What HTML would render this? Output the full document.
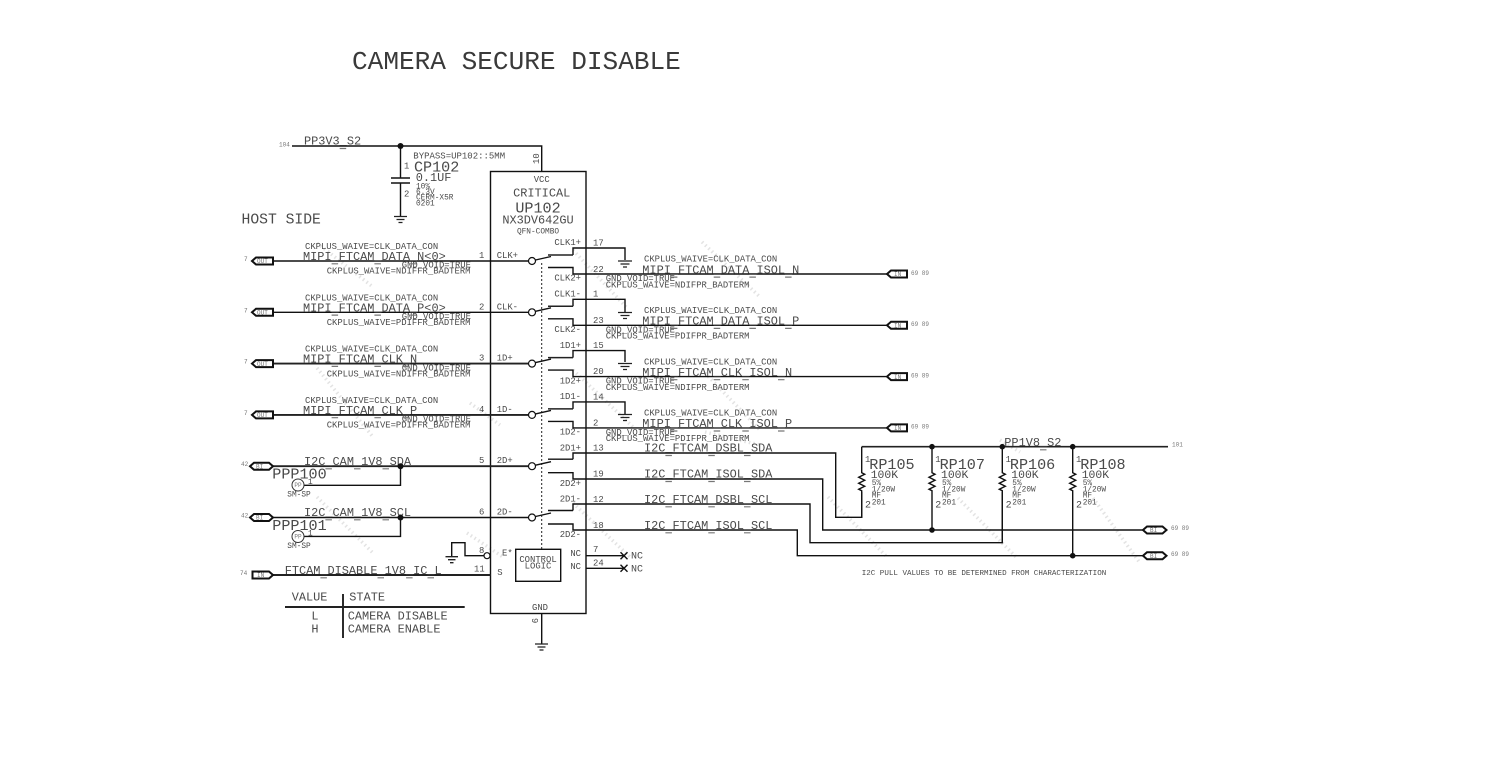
<!DOCTYPE html>
<html><head><meta charset="utf-8"><style>
html,body{margin:0;padding:0;background:#fff;width:1505px;height:761px;overflow:hidden}
svg{display:block}
text{font-family:"Liberation Mono",monospace;fill:#4a4a4a;white-space:pre}
.s{font-size:8.9px}.m{font-size:11.9px}.l{font-size:15.1px}.t{font-size:7.8px}.x{font-size:6px;fill:#777}
.c{text-anchor:middle}.r{text-anchor:end}
.w{fill:none;stroke:#111;stroke-width:1.4}
.b{fill:none;stroke:#222;stroke-width:1.9}
.o{fill:#fff;stroke:#111;stroke-width:2}
.d{fill:#111}
.h{fill:none;stroke:#e3e3e3;stroke-width:3.5;stroke-dasharray:1.5 3}
.u{fill:none;stroke:#777;stroke-width:1.2}
</style></head><body>
<svg width="1505" height="761" viewBox="0 0 1505 761" xmlns="http://www.w3.org/2000/svg">
<!-- watermark -->
<path class="h" d="M317 243L373 287M317 368L373 437M317 497L373 553M467 533L503 557M702 242L760 297M573 250L627 308M573 370L633 427M705 373L760 430M573 503L630 557M828 497L887 557M958 498L1017 558M1093 498L1140 563M705 432L760 445M470 403L500 425M1000 440L1020 452"/>

<text x="352" y="69" style="font-size:26.1px;fill:#3a3a3a">CAMERA SECURE DISABLE</text>
<text x="241.5" y="223.3" style="font-size:14.7px">HOST SIDE</text>

<!-- power and cap -->
<path class="w" d="M292 146H541.7V171.5M400.5 146V178M400.5 183V216M391 178H410M391 183H410"/>
<path class="b" d="M394 216.5H407M396.5 219.5H404.5M398.5 222.5H402.5" style="stroke-width:1.3"/>
<circle class="d" cx="400.5" cy="146" r="3"/>
<text class="x" x="279" y="146.5">104</text>
<text class="m" x="304" y="144.7">PP3V3_S2</text>
<text x="413.3" y="158.7" style="font-size:9px">BYPASS=UP102::5MM</text>
<text class="s" x="404" y="168.3">1</text>
<text class="s" x="404" y="196.7">2</text>
<text class="l" x="414" y="171.3">CP102</text>
<text class="m" x="415.7" y="181">0.1UF</text>
<text class="t" x="416" y="188.3">10%</text>
<text class="t" x="416" y="194">6.3V</text>
<text class="t" x="416" y="199.7">CERM-X5R</text>
<text class="t" x="416" y="205.7">0201</text>
<text class="s" transform="translate(539,164) rotate(-90)" x="0" y="0">10</text>

<!-- chip -->
<rect class="w" x="490.5" y="171.5" width="95.5" height="442"/>
<text class="s c" x="541.7" y="182">VCC</text>
<text class="m c" x="541.7" y="196.7">CRITICAL</text>
<text class="l c" x="538" y="212.7">UP102</text>
<text class="m c" x="538" y="223.3">NX3DV642GU</text>
<text class="t c" x="538" y="233.3">QFN-COMBO</text>
<text class="s c" x="540" y="610">GND</text>
<text class="s" transform="translate(532,618) rotate(90)" x="0" y="0">9</text>
<path class="w" d="M541.7 613.5V643.5"/>
<path class="b" d="M535 644H548M537.5 647H545.5M539.5 650H543.5" style="stroke-width:1.3"/>
<path fill="none" stroke="#222" stroke-width="1" stroke-dasharray="2 2" d="M541.7 263V549"/>
<rect class="w" x="515.7" y="549.3" width="45" height="32"/>
<text class="s c" x="538" y="562">CONTROL</text>
<text class="s c" x="538" y="568.7">LOGIC</text>

<!-- left nets -->
<path class="w" d="M273 261H528.5M273 312.3H528.5M273 517.5H528.5"/>
<path class="b" d="M273 363.6H528.5M273 414.9H528.5M273 466.2H528.5M273 575H490.5"/>
<g fill="#fff" stroke="#111" stroke-width="1.2">
<circle cx="532" cy="261" r="3.5"/><circle cx="532" cy="312.3" r="3.5"/><circle cx="532" cy="363.6" r="3.5"/><circle cx="532" cy="414.9" r="3.5"/><circle cx="532" cy="466.2" r="3.5"/><circle cx="532" cy="517.5" r="3.5"/>
</g>
<path class="w" d="M535.5 260L551 256.5M535.5 311.3L551 307.8M535.5 362.6L551 359.1M535.5 413.9L551 410.4M535.5 465.2L551 461.7M535.5 516.5L551 513"/>

<polygon class="o" points="252,261 256,257.5 273,257.5 273,264.5 256,264.5"/>
<polygon class="o" points="252,312.3 256,308.8 273,308.8 273,315.8 256,315.8"/>
<polygon class="o" points="252,363.6 256,360.1 273,360.1 273,367.1 256,367.1"/>
<polygon class="o" points="252,414.9 256,411.4 273,411.4 273,418.4 256,418.4"/>
<polygon class="o" points="250,466.2 254,462.7 269,462.7 273,466.2 269,469.7 254,469.7"/>
<polygon class="o" points="250,517.5 254,514 269,514 273,517.5 269,521 254,521"/>
<polygon class="o" points="252.5,571.5 269,571.5 273,575 269,578.5 252.5,578.5"/>
<g class="lbl">
<text class="x" x="257" y="263.2">OUT</text><text class="x" x="257" y="314.5">OUT</text><text class="x" x="257" y="365.8">OUT</text><text class="x" x="257" y="417.1">OUT</text>
<text class="x" x="256" y="468.4">BI</text><text class="x" x="256" y="519.7">BI</text><text class="x" x="257" y="577.2">IN</text>
<text class="x" x="244" y="261">7</text><text class="x" x="244" y="312.3">7</text><text class="x" x="244" y="363.6">7</text><text class="x" x="244" y="414.9">7</text>
<text class="x" x="241" y="466">42</text><text class="x" x="241" y="517.5">42</text><text class="x" x="240" y="575">74</text>
</g>

<text class="s" x="305" y="249">CKPLUS_WAIVE=CLK_DATA_CON</text>
<text class="m" x="303" y="260">MIPI_FTCAM_DATA_N&lt;0&gt;</text>
<text class="s" x="401.7" y="267.7">GND_VOID=TRUE</text>
<text class="s" x="326.7" y="273.7">CKPLUS_WAIVE=NDIFFR_BADTERM</text>
<text class="s" x="305" y="300.3">CKPLUS_WAIVE=CLK_DATA_CON</text>
<text class="m" x="303" y="311.3">MIPI_FTCAM_DATA_P&lt;0&gt;</text>
<text class="s" x="401.7" y="319">GND_VOID=TRUE</text>
<text class="s" x="326.7" y="325">CKPLUS_WAIVE=PDIFFR_BADTERM</text>
<text class="s" x="305" y="351.6">CKPLUS_WAIVE=CLK_DATA_CON</text>
<text class="m" x="303" y="362.6">MIPI_FTCAM_CLK_N</text>
<text class="s" x="401.7" y="370.3">GND_VOID=TRUE</text>
<text class="s" x="326.7" y="376.3">CKPLUS_WAIVE=NDIFFR_BADTERM</text>
<text class="s" x="305" y="402.9">CKPLUS_WAIVE=CLK_DATA_CON</text>
<text class="m" x="303" y="413.9">MIPI_FTCAM_CLK_P</text>
<text class="s" x="401.7" y="421.6">GND_VOID=TRUE</text>
<text class="s" x="326.7" y="427.6">CKPLUS_WAIVE=PDIFFR_BADTERM</text>
<text class="m" x="304" y="465">I2C_CAM_1V8_SDA</text>
<text class="m" x="304" y="516">I2C_CAM_1V8_SCL</text>
<text class="m" x="284.7" y="574">FTCAM_DISABLE_1V8_IC_L</text>

<text class="s" x="479" y="258">1</text><text class="s" x="479" y="309.3">2</text><text class="s" x="479" y="360.6">3</text><text class="s" x="479" y="411.9">4</text><text class="s" x="479" y="463.2">5</text><text class="s" x="479" y="514.5">6</text><text class="s" x="479" y="553">8</text><text class="s" x="474" y="571.7">11</text>
<text class="s" x="496.7" y="258">CLK+</text><text class="s" x="496.7" y="309.3">CLK-</text><text class="s" x="496.7" y="360.6">1D+</text><text class="s" x="496.7" y="411.9">1D-</text><text class="s" x="496.7" y="463.2">2D+</text><text class="s" x="496.7" y="514.5">2D-</text>
<text class="s" x="502" y="555.7">E*</text><text class="s" x="497.3" y="575">S</text>

<!-- test points -->
<path class="w" d="M400.5 466.2V485.3H304M400.5 517.5V536.4H304"/>
<circle class="d" cx="400.5" cy="466.2" r="3"/><circle class="d" cx="400.5" cy="517.5" r="3"/>
<circle cx="298" cy="485" r="6" fill="#fff" stroke="#333" stroke-width="1"/>
<circle cx="298" cy="536.5" r="6" fill="#fff" stroke="#333" stroke-width="1"/>
<text class="x c" x="298" y="487">PP</text><text class="x c" x="298" y="538.5">PP</text>
<text class="l" x="272.3" y="478.3">PPP100</text>
<text class="l" x="272.3" y="530">PPP101</text>
<text class="t" x="287.3" y="496.7">SM-SP</text>
<text class="t" x="287.3" y="548">SM-SP</text>
<text class="t" x="308" y="484">1</text><text class="t" x="308" y="535.5">1</text>

<!-- E* -->
<path class="w" d="M484 555.7H465V542.7H451.7V556.5"/>
<circle cx="487" cy="555.7" r="3" fill="#fff" stroke="#111" stroke-width="1.2"/>
<path class="b" d="M445.5 556.7H458M448 559.7H455.5M450 562.7H453.5" style="stroke-width:1.3"/>

<!-- right contacts -->
<path class="w" d="M573 255V248H625V260M573 306.3V299.3H625V312M573 357.6V350.6H625V362M573 408.9V401.9H625V414M573 459.2V453H835.7V517.3H861.7V492M573 510.5V504H810V542.7H1002.3V492"/>
<path class="b" d="M548 255H573M548 306.3H573M548 357.6H573M548 408.9H573" style="stroke-width:1.5"/>
<path class="w" d="M548 459.2H573M548 510.5H573"/>
<path class="w" d="M548 267.5H573V274H888M548 318.8H573V325.3H888M548 370.1H573V376.6H888M548 421.4H573V427.9H888M548 472.7H573V479H822.7V530H1143M548 524H573V530H797.3V555.7H1143"/>
<path class="b" d="M618 261H632M620.5 264H629.5M623 267H627M618 312.5H632M620.5 315.5H629.5M623 318.5H627M618 363.5H632M620.5 366.5H629.5M623 369.5H627M618 414.5H632M620.5 417.5H629.5M623 420.5H627" style="stroke-width:1.3"/>

<text class="s r" x="581" y="245">CLK1+</text><text class="s r" x="581" y="280.7">CLK2+</text>
<text class="s r" x="581" y="296.5">CLK1-</text><text class="s r" x="581" y="332">CLK2-</text>
<text class="s r" x="581" y="347.8">1D1+</text><text class="s r" x="581" y="383.3">1D2+</text>
<text class="s r" x="581" y="399.1">1D1-</text><text class="s r" x="581" y="434.6">1D2-</text>
<text class="s r" x="581" y="450.4">2D1+</text><text class="s r" x="581" y="485.9">2D2+</text>
<text class="s r" x="581" y="501.7">2D1-</text><text class="s r" x="581" y="537.2">2D2-</text>
<text class="s r" x="581" y="556">NC</text><text class="s r" x="581" y="569">NC</text>

<text class="s" x="593" y="245.7">17</text><text class="s" x="593" y="272">22</text>
<text class="s" x="593" y="296.5">1</text><text class="s" x="593" y="322.8">23</text>
<text class="s" x="593" y="348">15</text><text class="s" x="593" y="374">20</text>
<text class="s" x="593" y="399.5">14</text><text class="s" x="593" y="425.5">2</text>
<text class="s" x="593" y="450.5">13</text><text class="s" x="593" y="476.5">19</text>
<text class="s" x="593" y="502">12</text><text class="s" x="593" y="528">18</text>
<text class="s" x="593" y="552">7</text><text class="s" x="593" y="565.3">24</text>

<text class="s" x="644" y="261.7">CKPLUS_WAIVE=CLK_DATA_CON</text>
<text class="m" x="642.3" y="273.3">MIPI_FTCAM_DATA_ISOL_N</text>
<text class="s" x="605.7" y="281">GND_VOID=TRUE</text>
<text class="s" x="605.7" y="287.3">CKPLUS_WAIVE=NDIFPR_BADTERM</text>
<text class="s" x="644" y="313">CKPLUS_WAIVE=CLK_DATA_CON</text>
<text class="m" x="642.3" y="324.6">MIPI_FTCAM_DATA_ISOL_P</text>
<text class="s" x="605.7" y="332.3">GND_VOID=TRUE</text>
<text class="s" x="605.7" y="338.6">CKPLUS_WAIVE=PDIFPR_BADTERM</text>
<text class="s" x="644" y="364.3">CKPLUS_WAIVE=CLK_DATA_CON</text>
<text class="m" x="642.3" y="375.9">MIPI_FTCAM_CLK_ISOL_N</text>
<text class="s" x="605.7" y="383.6">GND_VOID=TRUE</text>
<text class="s" x="605.7" y="389.9">CKPLUS_WAIVE=NDIFPR_BADTERM</text>
<text class="s" x="644" y="415.6">CKPLUS_WAIVE=CLK_DATA_CON</text>
<text class="m" x="642.3" y="427.2">MIPI_FTCAM_CLK_ISOL_P</text>
<text class="s" x="605.7" y="434.9">GND_VOID=TRUE</text>
<text class="s" x="605.7" y="441.2">CKPLUS_WAIVE=PDIFPR_BADTERM</text>
<text class="m" x="644" y="451.7">I2C_FTCAM_DSBL_SDA</text>
<text class="m" x="644" y="477.7">I2C_FTCAM_ISOL_SDA</text>
<text class="m" x="644" y="503">I2C_FTCAM_DSBL_SCL</text>
<text class="m" x="644" y="529">I2C_FTCAM_ISOL_SCL</text>

<!-- hanging underscores beneath the wires -->
<path class="u" d="M331.6 263.8h6.5M374.4 263.8h6.5M410.1 263.8h6.5M331.6 315.1h6.5M374.4 315.1h6.5M410.1 315.1h6.5M331.6 366.4h6.5M374.4 366.4h6.5M403 366.4h6.5M331.6 417.7h6.5M374.4 417.7h6.5M403 417.7h6.5M325.4 468.8h6.5M354 468.8h6.5M382.5 468.8h6.5M325.4 519.8h6.5M354 519.8h6.5M382.5 519.8h6.5M320.4 577.8h6.5M377.5 577.8h6.5M406.1 577.8h6.5M427.5 577.8h6.5M339.7 148.5h6.5M1040 449.8h6.5M670.9 277.1h6.5M713.7 277.1h6.5M749.4 277.1h6.5M785.1 277.1h6.5M670.9 328.4h6.5M713.7 328.4h6.5M749.4 328.4h6.5M785.1 328.4h6.5M670.9 379.7h6.5M713.7 379.7h6.5M742.3 379.7h6.5M778 379.7h6.5M670.9 431h6.5M713.7 431h6.5M742.3 431h6.5M778 431h6.5M665.4 455.5h6.5M708.3 455.5h6.5M744 455.5h6.5M665.4 481.5h6.5M708.3 481.5h6.5M744 481.5h6.5M665.4 506.8h6.5M708.3 506.8h6.5M744 506.8h6.5M665.4 532.8h6.5M708.3 532.8h6.5M744 532.8h6.5"/>

<!-- right connectors -->
<polygon class="o" points="887,274 891,270.5 907,270.5 907,277.5 891,277.5"/>
<polygon class="o" points="887,325.3 891,321.8 907,321.8 907,328.8 891,328.8"/>
<polygon class="o" points="887,376.6 891,373.1 907,373.1 907,380.1 891,380.1"/>
<polygon class="o" points="887,427.9 891,424.4 907,424.4 907,431.4 891,431.4"/>
<text class="x" x="894" y="276.2">IN</text><text class="x" x="894" y="327.5">IN</text><text class="x" x="894" y="378.8">IN</text><text class="x" x="894" y="430.1">IN</text>
<text class="x" x="911" y="275">69 89</text><text class="x" x="911" y="326">69 89</text><text class="x" x="911" y="377.5">69 89</text><text class="x" x="911" y="428.5">69 89</text>

<!-- NC -->
<path class="w" d="M586 555.7H624M586 568.3H624M620.5 552.2L627.5 559.2M627.5 552.2L620.5 559.2M620.5 564.8L627.5 571.8M627.5 564.8L620.5 571.8"/>
<text x="631" y="558.7" style="font-size:10px">NC</text>
<text x="631" y="571.3" style="font-size:10px">NC</text>

<!-- table -->
<path class="b" d="M285 607H464.7M343 594V638"/>
<text class="m" x="291.7" y="600.7">VALUE</text><text class="m" x="349.3" y="600.7">STATE</text>
<text class="m c" x="315" y="619.7">L</text><text class="m" x="347.7" y="619.7">CAMERA DISABLE</text>
<text class="m c" x="315" y="632.7">H</text><text class="m" x="347.7" y="632.7">CAMERA ENABLE</text>

<!-- resistors -->
<path class="b" d="M861.7 446.7H1168" style="stroke-width:1.7"/>
<path class="w" d="M861.7 446.7V472.7l3 1.5-6 3 6 3-6 3 6 3-6 3 3 1.5V518"/>
<path class="w" d="M932 446.7V472.7l3 1.5-6 3 6 3-6 3 6 3-6 3 3 1.5V530"/>
<path class="w" d="M1002.3 446.7V472.7l3 1.5-6 3 6 3-6 3 6 3-6 3 3 1.5V543"/>
<path class="w" d="M1072.7 446.7V472.7l3 1.5-6 3 6 3-6 3 6 3-6 3 3 1.5V555.7"/>
<g class="d"><circle cx="932" cy="446.7" r="2.8"/><circle cx="1002.3" cy="446.7" r="2.8"/><circle cx="1072.7" cy="446.7" r="2.8"/><circle cx="932" cy="530" r="2.8"/><circle cx="1072.7" cy="555.7" r="2.8"/></g>
<text class="m" x="1004.3" y="446">PP1V8_S2</text>
<text class="x" x="1172" y="446.5">101</text>

<text class="s" x="865" y="462">1</text><text class="l" x="869.3" y="469">RP105</text><text x="870.7" y="478.2" style="font-size:11.4px">100K</text><text class="t" x="871.7" y="485">5%</text><text class="t" x="871.7" y="491.7">1/20W</text><text class="t" x="871.7" y="497.7">MF</text><text class="t" x="871.7" y="504.3">201</text><text x="865" y="507.5" style="font-size:10px">2</text>
<text class="s" x="935.3" y="462">1</text><text class="l" x="939.6" y="469">RP107</text><text x="941" y="478.2" style="font-size:11.4px">100K</text><text class="t" x="942" y="485">5%</text><text class="t" x="942" y="491.7">1/20W</text><text class="t" x="942" y="497.7">MF</text><text class="t" x="942" y="504.3">201</text><text x="935.3" y="507.5" style="font-size:10px">2</text>
<text class="s" x="1005.6" y="462">1</text><text class="l" x="1009.9" y="469">RP106</text><text x="1011.3" y="478.2" style="font-size:11.4px">100K</text><text class="t" x="1012.3" y="485">5%</text><text class="t" x="1012.3" y="491.7">1/20W</text><text class="t" x="1012.3" y="497.7">MF</text><text class="t" x="1012.3" y="504.3">201</text><text x="1005.6" y="507.5" style="font-size:10px">2</text>
<text class="s" x="1076" y="462">1</text><text class="l" x="1080.3" y="469">RP108</text><text x="1081.7" y="478.2" style="font-size:11.4px">100K</text><text class="t" x="1082.7" y="485">5%</text><text class="t" x="1082.7" y="491.7">1/20W</text><text class="t" x="1082.7" y="497.7">MF</text><text class="t" x="1082.7" y="504.3">201</text><text x="1076" y="507.5" style="font-size:10px">2</text>

<polygon class="o" points="1143,530 1147,526.5 1162.5,526.5 1166.5,530 1162.5,533.5 1147,533.5"/>
<polygon class="o" points="1143,555.7 1147,552.2 1162.5,552.2 1166.5,555.7 1162.5,559.2 1147,559.2"/>
<text class="x" x="1150" y="532.2">BI</text><text class="x" x="1150" y="557.9">BI</text>
<text class="x" x="1171" y="530">69 89</text><text class="x" x="1171" y="556">69 89</text>
<text x="861.7" y="575" style="font-size:7.56px">I2C PULL VALUES TO BE DETERMINED FROM CHARACTERIZATION</text>
</svg>
</body></html>
